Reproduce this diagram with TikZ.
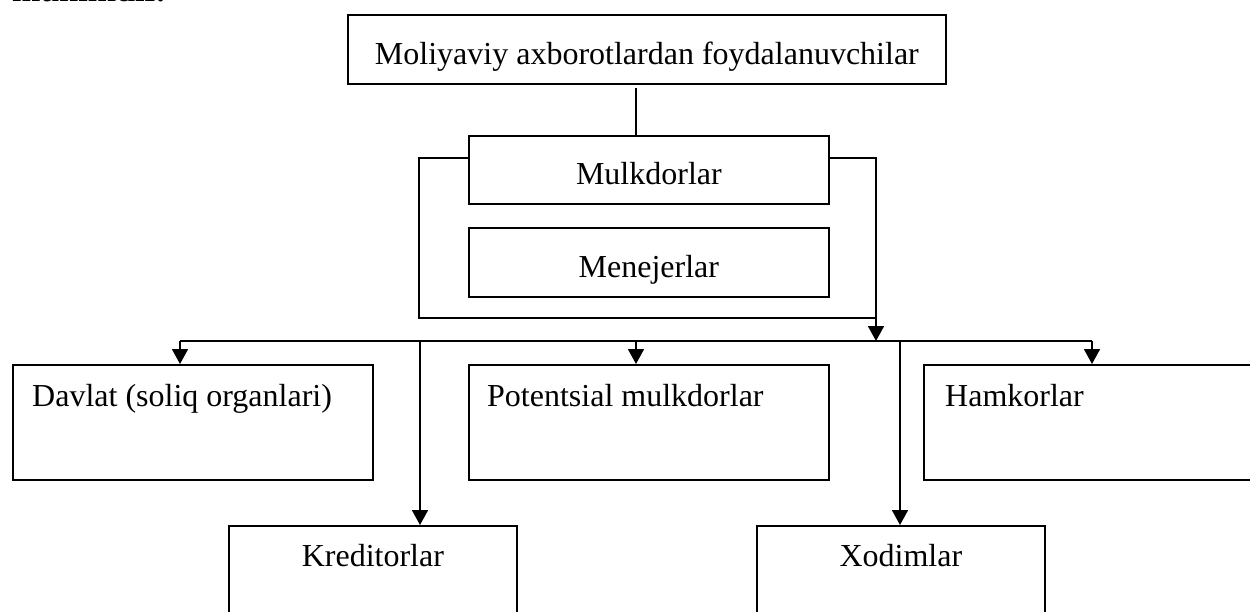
\documentclass[tikz,border=0pt]{standalone}
\usepackage{fontspec}
\setmainfont{Liberation Serif}
\usetikzlibrary{arrows.meta}
\begin{document}
\begin{tikzpicture}[x=1pt,y=-1pt,
  box/.style={draw, line width=1.8pt, inner sep=0pt, anchor=north west},
  ctext/.style={font=\fontsize{32}{38}\selectfont, text height=32pt, text depth=2pt},
  lbl/.style={font=\fontsize{32}{38}\selectfont, anchor=base west, inner sep=0pt},
  clbl/.style={font=\fontsize{32}{38}\selectfont, anchor=base, inner sep=0pt},
  conn/.style={line width=1.8pt},
  arr/.style={conn, -{Triangle[width=16pt,length=15pt]}}
]
\useasboundingbox (0,0) rectangle (1250,612);
\clip (0,0) rectangle (1250,612);
% clipped heading fragment at the top edge
\node[font=\bfseries\fontsize{34}{40}\selectfont, anchor=base west, inner sep=0pt] (head) at (12,2) {muhimdir.};
% boxes
\node[box, ctext, minimum width=598pt, minimum height=69pt] (top) at (347,14) {Moliyaviy axborotlardan foydalanuvchilar};
\node[box, ctext, minimum width=360pt, minimum height=68pt] (mulk) at (468,135) {Mulkdorlar};
\node[box, ctext, minimum width=360pt, minimum height=69pt] (men) at (468,227) {Menejerlar};
\node[box, minimum width=360pt, minimum height=115pt] (davlat) at (12,364) {};
\node[box, minimum width=360pt, minimum height=115pt] (pot) at (468,364) {};
\node[box, minimum width=380pt, minimum height=115pt] (ham) at (923,364) {};
\node[box, minimum width=288pt, minimum height=120pt] (kred) at (228,525) {};
\node[box, minimum width=288pt, minimum height=120pt] (xod) at (756,525) {};
% texts
\node[lbl] (davlatT) at ([xshift=20pt,yshift=-42pt]davlat.north west) {Davlat (soliq organlari)};
\node[lbl] (potT) at ([xshift=19pt,yshift=-42pt]pot.north west) {Potentsial mulkdorlar};
\node[lbl] (hamT) at ([xshift=22pt,yshift=-42pt]ham.north west) {Hamkorlar};
\node[clbl] (kredT) at ([yshift=-41pt]kred.north) {Kreditorlar};
\node[clbl] (xodT) at ([yshift=-41pt]xod.north) {Xodimlar};
% connectors
\coordinate (vx) at (636,88);
\draw[conn] (vx) -- (mulk.north -| vx);
\coordinate (yb) at (0,158);
\coordinate (hub) at (876,341);
\coordinate (bl) at (419,318);
\draw[conn] (mulk.west |- yb) -| (bl) -- (hub |- bl);
\draw[arr] (mulk.east |- yb) -| (hub);
\coordinate (bL) at (180,341);
\coordinate (bR) at (1092,341);
\coordinate (bP) at (636,341);
\coordinate (bK) at (420,341);
\coordinate (bX) at (900,341);
\draw[conn] (bL) -- (bR);
\draw[arr] (bL) -- (davlat.north -| bL);
\draw[arr] (bP) -- (pot.north -| bP);
\draw[arr] (bR) -- (ham.north -| bR);
\draw[arr] (bK) -- (kred.north -| bK);
\draw[arr] (bX) -- (xod.north -| bX);
\end{tikzpicture}
\end{document}
